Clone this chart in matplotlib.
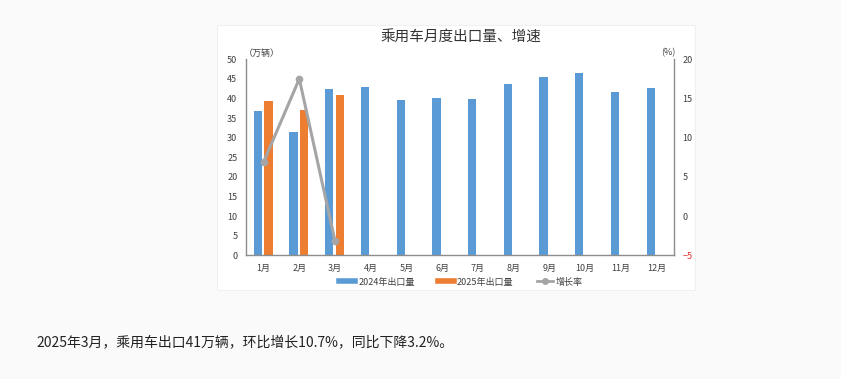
import matplotlib
matplotlib.use('Agg')
import matplotlib.pyplot as plt
import numpy as np
from matplotlib.patches import Rectangle
from matplotlib.lines import Line2D

plt.rcParams['font.family'] = ['Noto Sans CJK SC', 'DejaVu Sans']

# 数据
months = ['1月', '2月', '3月', '4月', '5月', '6月', '7月', '8月', '9月', '10月', '11月', '12月']
export_2024 = [36.8, 31.5, 42.3, 42.9, 39.6, 40.1, 39.8, 43.8, 45.6, 46.4, 41.7, 42.6]
export_2025 = [39.4, 37.1, 41.0]
growth = [6.9, 17.5, -3.2]
left_ticks = [0, 5, 10, 15, 20, 25, 30, 35, 40, 45, 50]
right_ticks = [-5, 0, 5, 10, 15, 20]

BLUE = '#5B9BD5'
ORANGE = '#ED7D31'
GRAY = '#A5A5A5'
AXIS = '#8C8C8C'
TXT = '#404040'

fig = plt.figure(figsize=(8.41, 3.79), dpi=100, facecolor='#fafafa')

# 图表白色底框
fig.add_artist(Rectangle((217 / 841, 1 - 290 / 379), (695 - 217) / 841, (290 - 25) / 379,
                         transform=fig.transFigure, facecolor='white', edgecolor='#f0f0f0',
                         linewidth=0.8, zorder=-5))

ax = fig.add_axes([0.2922, 0.3264, 0.5096, 0.5172])
ax.set_facecolor('none')
x = np.arange(len(months))
w = 0.23
ax.bar(x - 0.16, export_2024, width=w, color=BLUE, zorder=2)
ax.bar(x[:len(export_2025)] + 0.14, export_2025, width=w, color=ORANGE, zorder=2)

ax.set_xlim(-0.5, 11.5)
ax.set_ylim(0, 50)
ax.set_yticks(left_ticks)
ax.set_xticks(x)
ax.set_xticklabels(months)
ax.tick_params(axis='both', length=0, labelsize=6.5, colors=TXT, pad=6)
for s in ['top', 'right']:
    ax.spines[s].set_visible(False)
for s in ['left', 'bottom']:
    ax.spines[s].set_color(AXIS)
    ax.spines[s].set_linewidth(1.0)

ax2 = ax.twinx()
ax2.plot(x[:len(growth)], growth, color=GRAY, linewidth=2.2, marker='o',
         markersize=4.5, zorder=3)
ax2.set_ylim(-5, 20)
ax2.set_yticks(right_ticks)
ax2.tick_params(axis='y', length=0, labelsize=6.5, colors=TXT, pad=6)
ax2.get_yticklabels()[0].set_color('#E03030')
for s in ['top', 'left', 'bottom']:
    ax2.spines[s].set_visible(False)
ax2.spines['right'].set_color(AXIS)
ax2.spines['right'].set_linewidth(1.0)

# 单位
fig.text(244 / 841, 1 - 53 / 379, '（万辆）', fontsize=6.5, color=TXT, ha='left', va='center')
fig.text(668 / 841, 1 - 53 / 379, '(%)', fontsize=6.5, color=TXT, ha='center', va='center')

# 标题
fig.text(461 / 841, 1 - 38 / 379, '乘用车月度出口量、增速', fontsize=10.5, color='#333333',
         ha='center', va='center')

# 图例
handles = [Line2D([0], [0], color=BLUE, linewidth=4),
           Line2D([0], [0], color=ORANGE, linewidth=4),
           Line2D([0], [0], color=GRAY, linewidth=2, marker='o', markersize=4)]
fig.legend(handles, ['2024年出口量', '2025年出口量', '增长率'], loc='center',
           bbox_to_anchor=(461 / 841, 1 - 282 / 379), ncol=3, frameon=False,
           fontsize=6.5, handlelength=1.8, handletextpad=0.3, columnspacing=2.6,
           labelcolor=TXT)

# 正文
fig.text(36 / 841, 1 - 342 / 379, '2025年3月，乘用车出口41万辆，环比增长10.7%，同比下降3.2%。',
         fontsize=10, color='#222222', ha='left', va='center')

fig.savefig('out.png', dpi=100, facecolor=fig.get_facecolor())
